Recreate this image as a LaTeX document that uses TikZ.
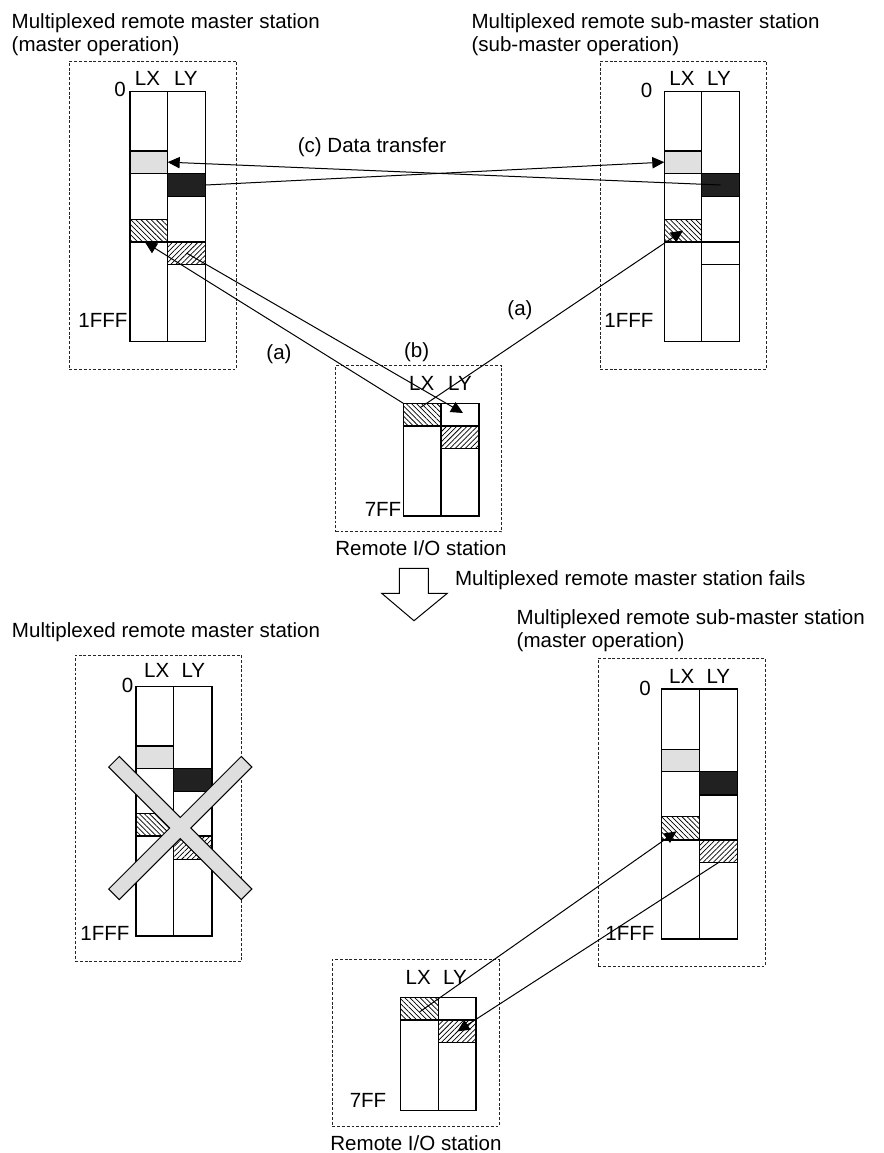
\documentclass[tikz,border=0pt]{standalone}
\usepackage{fontspec}
\setmainfont{Liberation Sans}
\usetikzlibrary{fit,patterns.meta,arrows.meta,calc}
\newcommand\cellat[6]{\node[#1, fit={(#3,#4) (#5,#6)}] (#2) {};}
\begin{document}
\begin{tikzpicture}[x=0.75pt,y=-0.75pt,
  every node/.style={font=\fontsize{15.4}{17.25}\selectfont},
  lbl/.style={inner sep=0pt, outer sep=0pt},
  frame/.style={draw=black!85, line width=0.75pt, dash pattern=on 2.2pt off 1.4pt, inner sep=0pt, outer sep=0pt},
  colm/.style={draw, fill=white, line width=1pt, inner sep=0pt, outer sep=0pt},
  cell/.style={draw, line width=1pt, inner sep=0pt, outer sep=0pt},
  graycell/.style={cell, fill=black!12},
  blackcell/.style={cell, fill=black!87},
  hatchx/.style={cell, pattern={Lines[angle=-45,distance=2.7pt,line width=0.55pt]}},
  hatchy/.style={cell, pattern={Lines[angle=45,distance=2.7pt,line width=0.55pt]}},
  conn/.style={line width=0.75pt, -{Triangle[length=9pt,width=8.5pt]}},
  bigarrow/.style={draw, fill=white, line width=0.75pt, line join=miter},
  crossx/.style={draw, fill=black!13, line width=0.75pt, line join=miter},
]
\fill[white] (0,0) rectangle (884,1153);
\useasboundingbox (0,0) rectangle (884,1153);

% ---------- frames ----------
\cellat{frame}{TLbox}{69.3}{61}{236}{369}
\cellat{frame}{TRbox}{600}{61}{766.7}{369}
\cellat{frame}{RTbox}{335.7}{365.7}{501.7}{531.7}
\cellat{frame}{BLbox}{75}{655}{241.7}{961.7}
\cellat{frame}{BRbox}{598.3}{658.3}{765}{966}
\cellat{frame}{RBbox}{332.3}{959.3}{499}{1126}

% ---------- top-left station ----------
\cellat{colm}{TLx}{130}{91.7}{167.7}{341.7}
\cellat{colm}{TLy}{167.7}{91.7}{205.7}{341.7}
\cellat{graycell}{TLgray}{130}{151}{167.7}{173.3}
\cellat{blackcell}{TLblack}{167.7}{173.3}{205.7}{196.7}
\cellat{hatchx}{TLhx}{130}{219.3}{167.7}{242}
\cellat{hatchy}{TLhy}{167.7}{242}{205.7}{264.3}
\node[lbl] (TLzero) at (120,89.5) {0};
\node[lbl] (TLlx) at (147.5,78.8) {LX};
\node[lbl] (TLly) at (185.8,78.8) {LY};
\node[lbl] (TLend) at (103,320.5) {1FFF};

% ---------- top-right station ----------
\cellat{colm}{TRx}{664.3}{91.7}{701.7}{341.7}
\cellat{colm}{TRy}{701.7}{91.7}{739.3}{341.7}
\cellat{graycell}{TRgray}{664.3}{151}{701.7}{173.3}
\cellat{blackcell}{TRblack}{701.7}{173.3}{739.3}{196.7}
\cellat{hatchx}{TRhx}{664.3}{219.3}{701.7}{242}
\cellat{cell}{TRey}{701.7}{242}{739.3}{264.3}
\node[lbl] (TRzero) at (646.7,90) {0};
\node[lbl] (TRlx) at (682,78.8) {LX};
\node[lbl] (TRly) at (719,78.8) {LY};
\node[lbl] (TRend) at (629,320.5) {1FFF};

% ---------- top remote I/O ----------
\cellat{colm}{RTx}{403.3}{403.3}{441}{516}
\cellat{colm}{RTy}{441}{403.3}{479}{516}
\cellat{hatchx}{RThx}{403.3}{403.3}{441}{426}
\cellat{hatchy}{RThy}{441}{426}{479}{448.7}
\node[lbl] (RTlx) at (421.7,383.3) {LX};
\node[lbl] (RTly) at (460,383.3) {LY};
\node[lbl] (RTend) at (383,509) {7FF};

% ---------- bottom-left station ----------
\cellat{colm}{BLx}{136}{686.7}{173.7}{936}
\cellat{colm}{BLy}{173.7}{686.7}{212}{936}
\cellat{graycell}{BLgray}{136}{746}{173.7}{768.3}
\cellat{blackcell}{BLblack}{173.7}{768.3}{212}{791.7}
\cellat{hatchx}{BLhx}{136}{813.3}{173.7}{836}
\cellat{hatchy}{BLhy}{173.7}{836}{212}{859.3}
\node[lbl] (BLzero) at (127.5,685) {0};
\node[lbl] (BLlx) at (156.7,670) {LX};
\node[lbl] (BLly) at (193.3,670) {LY};
\node[lbl] (BLend) at (105,933) {1FFF};

% ---------- bottom-right station ----------
\cellat{colm}{BRx}{661.7}{689}{699.3}{939}
\cellat{colm}{BRy}{699.3}{689}{737.3}{939}
\cellat{graycell}{BRgray}{661.7}{749.3}{699.3}{771.7}
\cellat{blackcell}{BRblack}{699.3}{771.7}{737.3}{795}
\cellat{hatchx}{BRhx}{661.7}{816.7}{699.3}{840}
\cellat{hatchy}{BRhy}{699.3}{840}{737.3}{862.7}
\node[lbl] (BRzero) at (645,688) {0};
\node[lbl] (BRlx) at (681.7,676.7) {LX};
\node[lbl] (BRly) at (718.3,676.7) {LY};
\node[lbl] (BRend) at (630,933) {1FFF};

% ---------- bottom remote I/O ----------
\cellat{colm}{RBx}{400.7}{997.7}{438.7}{1110.7}
\cellat{colm}{RBy}{438.7}{997.7}{476}{1110.7}
\cellat{hatchx}{RBhx}{400.7}{997.7}{438.7}{1020}
\cellat{hatchy}{RBhy}{438.7}{1020}{476}{1042.7}
\node[lbl] (RBlx) at (418.3,977.7) {LX};
\node[lbl] (RBly) at (455,977.7) {LY};
\node[lbl] (RBend) at (368,1100) {7FF};

% ---------- titles ----------
\node[lbl, anchor=base west] (TLtitleA) at (11.7,28.3) {Multiplexed remote master station};
\node[lbl, anchor=base west] (TLtitleB) at (11.7,51.7) {(master operation)};
\node[lbl, anchor=base west] (TRtitleA) at (471.5,28.3) {Multiplexed remote sub-master station};
\node[lbl, anchor=base west] (TRtitleB) at (471.5,51.7) {(sub-master operation)};
\node[lbl] (RTtitle) at (421,548.3) {Remote I/O station};
\node[lbl, anchor=base west] (fails) at (455,585) {Multiplexed remote master station fails};
\node[lbl, anchor=base west] (BLtitle) at (12,637.3) {Multiplexed remote master station};
\node[lbl, anchor=base west] (BRtitleA) at (516.7,624) {Multiplexed remote sub-master station};
\node[lbl, anchor=base west] (BRtitleB) at (516.7,647) {(master operation)};
\node[lbl] (RBtitle) at (416,1143) {Remote I/O station};

% ---------- connector labels ----------
\node[lbl] (lblc) at (372,147) {(c) Data transfer};
\node[lbl] (lblaL) at (279,354) {(a)};
\node[lbl] (lblaR) at (520,310) {(a)};
\node[lbl] (lblb) at (416.7,351.7) {(b)};

% ---------- connectors ----------
\draw[conn] (TRblack.center) -- (TLgray.east);
\draw[conn] (TLblack.east) -- (TRgray.west);
\coordinate (TLtipA) at ($(TLhx.south)+(-4,0)$);
\draw[conn] (RThx.north west) -- (TLtipA);
\coordinate (RTtipB) at ($(RThy.north)+(3,-13)$);
\draw[conn] (TLhy.center) -- (RTtipB);
\coordinate (RTstartA) at ($(RThx.center)+(-2,-7)$);
\draw[conn] (RTstartA) -- (TRhx.center);
\coordinate (RBstart) at ($(RBhx.center)+(0,3)$);
\coordinate (BRtip) at ($(BRhx.center)+(-4,3)$);
\draw[conn] (RBstart) -- (BRtip);
\draw[conn] (BRhy.south) -- (RBhy.center);

% ---------- failure arrow ----------
\draw[bigarrow] (399.3,568.3) -- (428.3,568.3) -- (428.3,593.3) -- (447.3,593.3)
  -- (414,620.7) -- (381.7,593.3) -- (399.3,593.3) -- cycle;

% ---------- cross over failed master ----------
\draw[crossx, shift={(180.3,828)}]
  (-61,-71.6) -- (-71.6,-61) -- (-10.6,0) -- (-71.6,61) -- (-61,71.6) -- (0,10.6)
  -- (61,71.6) -- (71.6,61) -- (10.6,0) -- (71.6,-61) -- (61,-71.6) -- (0,-10.6) -- cycle;
\end{tikzpicture}
\end{document}
